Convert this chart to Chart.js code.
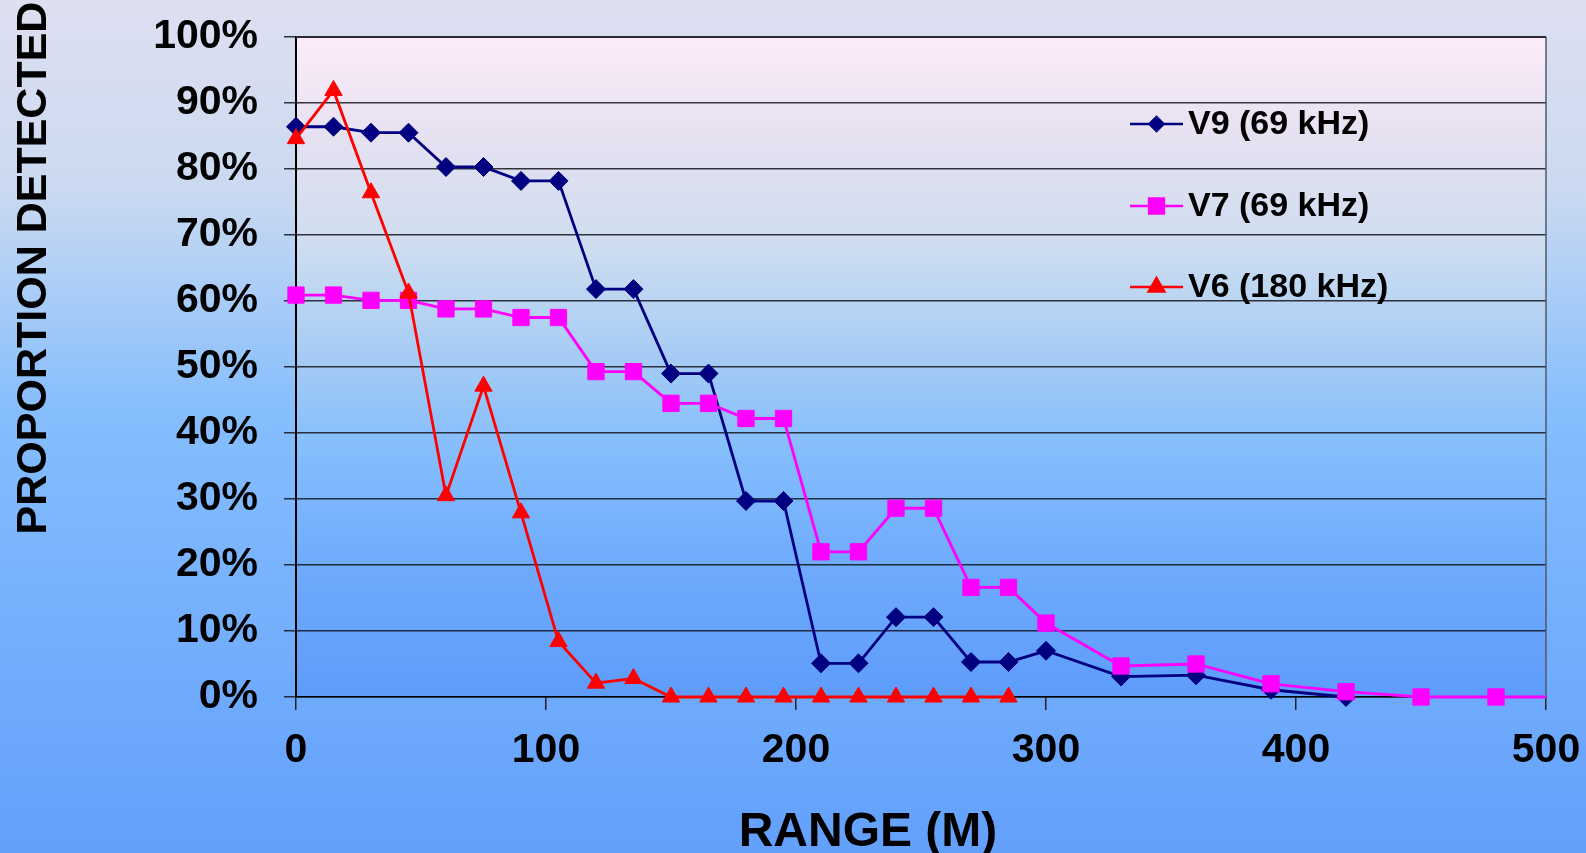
<!DOCTYPE html>
<html>
<head>
<meta charset="utf-8">
<title>Proportion detected vs range</title>
<script src="https://cdn.jsdelivr.net/npm/chart.js@4.4.1/dist/chart.umd.min.js"></script>
<style>
  html, body { margin: 0; padding: 0; overflow: hidden; background: #8fbff8; }
  canvas { display: block; }
</style>
</head>
<body>
<canvas id="chart" width="1586" height="853" style="width:1586px;height:853px"></canvas>
<script>
// Range (m) at which each tag type was tested, and the share of transmissions detected (%)
const rangeV9 = [0, 15, 30, 45, 60, 75, 90, 105, 120, 135, 150, 165, 180, 195, 210, 225, 240, 255, 270, 285, 300, 330, 360, 390, 420];
const detectedV9 = [86.4, 86.4, 85.5, 85.5, 80.3, 80.3, 78.2, 78.2, 61.8, 61.8, 49.0, 49.0, 29.7, 29.7, 5.1, 5.1, 12.1, 12.1, 5.3, 5.3, 7.0, 3.1, 3.3, 1.1, 0];

const rangeV7 = [0, 15, 30, 45, 60, 75, 90, 105, 120, 135, 150, 165, 180, 195, 210, 225, 240, 255, 270, 285, 300, 330, 360, 390, 420, 450, 480, 500];
const detectedV7 = [60.9, 60.9, 60.1, 60.1, 58.8, 58.8, 57.5, 57.5, 49.3, 49.3, 44.5, 44.5, 42.2, 42.2, 22.0, 22.0, 28.6, 28.6, 16.6, 16.6, 11.2, 4.7, 5.0, 2.0, 0.8, 0, 0, 0];

const rangeV6 = [0, 15, 30, 45, 60, 75, 90, 105, 120, 135, 150, 165, 180, 195, 210, 225, 240, 255, 270, 285];
const detectedV6 = [84.6, 91.9, 76.4, 61.2, 30.5, 47.1, 27.9, 8.4, 2.1, 2.8, 0, 0, 0, 0, 0, 0, 0, 0, 0, 0];

const seriesLabels = ['V9 (69 kHz)', 'V7 (69 kHz)', 'V6 (180 kHz)'];
const xTicks = [0, 100, 200, 300, 400, 500];
const yTicks = [0, 10, 20, 30, 40, 50, 60, 70, 80, 90, 100];
const xTitle = 'RANGE (M)';
const yTitle = 'PROPORTION DETECTED';

const FONT = '"Liberation Sans", Arial, Helvetica, sans-serif';
const pairs = (xs, ys) => xs.map((x, i) => ({ x, y: ys[i] }));

// Page and plot-area gradients, plus the plot frame
const backdrop = {
  id: 'backdrop',
  beforeDraw(chart) {
    const { ctx, width, height, chartArea: a } = chart;
    ctx.save();
    let g = ctx.createLinearGradient(0, 0, 0, height);
    g.addColorStop(0.00, '#dedff1');
    g.addColorStop(0.22, '#cbdaf1');
    g.addColorStop(0.48, '#86befd');
    g.addColorStop(1.00, '#62a0fc');
    ctx.fillStyle = g;
    ctx.fillRect(0, 0, width, height);

    g = ctx.createLinearGradient(0, a.top, 0, a.bottom);
    g.addColorStop(0.00, '#fdecf9');
    g.addColorStop(0.15, '#e6e1f1');
    g.addColorStop(0.32, '#cdddf0');
    g.addColorStop(0.50, '#a2caf5');
    g.addColorStop(0.62, '#86befd');
    g.addColorStop(0.80, '#6eabfc');
    g.addColorStop(1.00, '#5e9cfc');
    ctx.fillStyle = g;
    ctx.fillRect(a.left, a.top, a.right - a.left, a.bottom - a.top);
    ctx.restore();
  },
  beforeDatasetsDraw(chart) {
    const { ctx, chartArea: a } = chart;
    ctx.save();
    ctx.strokeStyle = '#4c5a6e';
    ctx.lineWidth = 1.5;
    ctx.beginPath();
    ctx.moveTo(a.right, a.top);
    ctx.lineTo(a.right, a.bottom);
    ctx.stroke();
    ctx.strokeStyle = '#2a2a30';
    ctx.lineWidth = 2;
    ctx.beginPath();
    ctx.moveTo(a.left, a.top);
    ctx.lineTo(a.right, a.top);
    ctx.stroke();
    ctx.restore();
  }
};

// Axis titles
const axisTitles = {
  id: 'axisTitles',
  afterDraw(chart) {
    const { ctx } = chart;
    ctx.save();
    ctx.fillStyle = '#000';
    ctx.font = 'bold 48px ' + FONT;
    ctx.textAlign = 'center';
    ctx.textBaseline = 'alphabetic';
    ctx.fillText(xTitle, 868, 846);

    ctx.translate(46, 268);
    ctx.rotate(-Math.PI / 2);
    ctx.font = 'bold 43px ' + FONT;
    ctx.fillText(yTitle, 0, 0);
    ctx.restore();
  }
};

// Legend drawn inside the plot, top right
const insideLegend = {
  id: 'insideLegend',
  afterDatasetsDraw(chart) {
    const { ctx } = chart;
    const rows = [124, 206, 287];
    const x0 = 1130, x1 = 1183, tx = 1188;
    ctx.save();
    chart.data.datasets.forEach((ds, i) => {
      const y = rows[i];
      ctx.strokeStyle = ds.borderColor;
      ctx.lineWidth = 2.5;
      ctx.beginPath();
      ctx.moveTo(x0, y);
      ctx.lineTo(x1, y);
      ctx.stroke();
      ctx.fillStyle = ds.pointBackgroundColor;
      ctx.strokeStyle = ds.pointBackgroundColor;
      Chart.helpers.drawPoint(ctx, {
        pointStyle: ds.pointStyle,
        radius: ds.legendRadius,
        rotation: 0,
        borderWidth: 1
      }, (x0 + x1) / 2, y);
      ctx.fillStyle = '#000';
      ctx.font = 'bold 34px ' + FONT;
      ctx.textAlign = 'left';
      ctx.textBaseline = 'middle';
      ctx.fillText(ds.label, tx, y + 1);
    });
    ctx.restore();
  }
};

const tickFont = { family: FONT, size: 41, weight: 'bold' };

new Chart(document.getElementById('chart'), {
  type: 'line',
  data: {
    datasets: [
      {
        label: seriesLabels[0],
        data: pairs(rangeV9, detectedV9),
        borderColor: '#000080',
        backgroundColor: '#000080',
        pointBackgroundColor: '#000080',
        pointBorderColor: '#000080',
        pointStyle: 'rectRot',
        pointRadius: 9.5,
        legendRadius: 7,
        pointBorderWidth: 1,
        borderWidth: 2.8,
        order: 3,
        clip: false
      },
      {
        label: seriesLabels[1],
        data: pairs(rangeV7, detectedV7),
        borderColor: '#ff00ff',
        backgroundColor: '#ff00ff',
        pointBackgroundColor: '#ff00ff',
        pointBorderColor: '#ff00ff',
        pointStyle: 'rect',
        pointRadius: rangeV7.map(r => (r === 500 ? 0 : 11.5)),
        legendRadius: 10.5,
        pointBorderWidth: 1,
        borderWidth: 2.8,
        order: 2,
        clip: false
      },
      {
        label: seriesLabels[2],
        data: pairs(rangeV6, detectedV6),
        borderColor: '#ff0000',
        backgroundColor: '#ff0000',
        pointBackgroundColor: '#ff0000',
        pointBorderColor: '#ff0000',
        pointStyle: 'triangle',
        pointRadius: 10,
        legendRadius: 9,
        pointBorderWidth: 1,
        borderWidth: 2.8,
        order: 1,
        clip: false
      }
    ]
  },
  options: {
    responsive: false,
    animation: false,
    devicePixelRatio: 1,
    layout: { padding: { top: 37, right: 40, left: 0, bottom: 0 } },
    plugins: {
      legend: { display: false },
      tooltip: { enabled: false }
    },
    elements: { line: { tension: 0 } },
    scales: {
      x: {
        type: 'linear',
        min: xTicks[0],
        max: xTicks[xTicks.length - 1],
        afterBuildTicks(s) { s.ticks = xTicks.map(v => ({ value: v })); },
        afterFit(s) { s.height = 156; s.paddingLeft = 0; s.paddingRight = 0; },
        ticks: { font: tickFont, color: '#000', padding: 16, maxRotation: 0, autoSkip: false },
        grid: { drawOnChartArea: false, drawTicks: true, tickLength: 13, color: '#222', lineWidth: 1.5 },
        border: { display: true, color: '#000', width: 1.5 }
      },
      y: {
        min: yTicks[0],
        max: yTicks[yTicks.length - 1],
        afterBuildTicks(s) { s.ticks = yTicks.map(v => ({ value: v })); },
        afterFit(s) { s.width = 296; s.paddingTop = 0; s.paddingBottom = 0; },
        ticks: { font: tickFont, color: '#000', padding: 26, callback: v => v + '%' },
        grid: { color: 'rgba(20,20,30,0.85)', lineWidth: 1.5, drawTicks: true, tickLength: 12 },
        border: { display: true, color: '#000', width: 2 }
      }
    }
  },
  plugins: [backdrop, axisTitles, insideLegend]
});
</script>
</body>
</html>
